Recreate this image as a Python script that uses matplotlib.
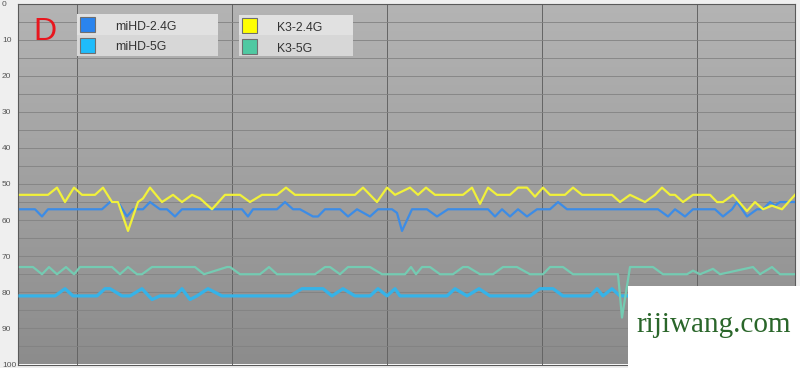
import numpy as np
import matplotlib.pyplot as plt
from matplotlib.patches import Rectangle

# czas (pozycja pozioma) i poziom sygnalu dla kazdej serii
k3_24_t = [20, 48, 57, 65, 74, 82, 95, 103, 112, 118, 128, 138, 143, 150, 162, 173, 182, 192,
           200, 212, 225, 240, 250, 262, 277, 286, 295, 355, 363, 377, 387, 395, 410, 418, 426,
           435, 463, 472, 480, 488, 497, 510, 518, 527, 535, 543, 550, 565, 573, 582, 612, 620,
           630, 645, 655, 662, 670, 675, 683, 693, 710, 717, 723, 733, 747, 755, 763, 772, 782, 795]
k3_24_v = [53, 53, 51, 55, 51, 53, 53, 51, 55, 55, 63, 55, 54, 51, 55, 53, 55, 53,
           54, 57, 53, 53, 55, 53, 53, 51, 53, 53, 51, 55, 51, 53, 51, 53, 51,
           53, 53, 51, 55.5, 51, 53, 53, 51, 51, 53.5, 51, 53, 53, 51, 53, 53, 55,
           53, 55, 53, 51, 53, 53, 55, 53, 53, 55, 55, 53, 57.5, 55, 57, 56, 57, 53]

mi_24_t = [20, 35, 42, 48, 102, 110, 118, 127, 133, 143, 150, 160, 167, 175, 182, 242, 248, 253,
           277, 285, 293, 300, 313, 318, 325, 340, 348, 357, 370, 378, 392, 397, 402, 412, 427,
           437, 448, 488, 495, 502, 510, 518, 527, 537, 550, 558, 567, 658, 668, 675, 685, 693,
           715, 723, 732, 737, 747, 757, 763, 770, 775, 780, 795]
mi_24_v = [57, 57, 59, 57, 57, 55, 55, 59, 57, 57, 55, 57, 57, 59, 57, 57, 59, 57,
           57, 55, 57, 57, 59, 59, 57, 57, 59, 57, 59, 57, 57, 58, 63, 57, 57,
           59, 57, 57, 59, 57, 59, 57, 59, 57, 57, 55, 57, 57, 59, 57, 59, 57,
           57, 59, 57, 55, 59, 57, 57, 55, 56, 55, 55]

k3_5_t = [20, 33, 42, 49, 57, 66, 74, 80, 112, 120, 128, 137, 142, 152, 195, 204, 227, 230, 240,
          260, 269, 277, 315, 325, 330, 340, 348, 370, 382, 405, 411, 416, 422, 430, 440, 453,
          463, 468, 480, 493, 503, 517, 530, 543, 550, 563, 573, 618, 622, 630, 653, 663, 687,
          693, 700, 713, 720, 753, 760, 772, 780, 795]
k3_5_v = [73, 73, 75, 73, 75, 73, 75, 73, 73, 75, 73, 75, 75, 73, 73, 75, 73, 73, 75,
          75, 73, 75, 75, 73, 73, 75, 73, 73, 75, 75, 73, 75, 73, 73, 75, 75,
          73, 73, 75, 75, 73, 73, 75, 75, 73, 73, 75, 75, 87, 73, 73, 75, 75,
          74, 75, 73.5, 75, 73, 75, 73, 75, 75]

mi_5_t = [20, 55, 65, 73, 97, 105, 110, 122, 130, 142, 152, 160, 175, 182, 190, 197, 208, 222,
          290, 302, 323, 332, 343, 355, 370, 378, 387, 395, 400, 447, 455, 467, 479, 490, 530,
          540, 553, 563, 590, 597, 603, 612, 620, 640, 795]
mi_5_v = [81, 81, 79, 81, 81, 79, 79, 81, 81, 79, 82, 81, 81, 79, 82, 81, 79, 81,
          81, 79, 79, 81, 79, 81, 81, 79, 81, 79, 81, 81, 79, 81, 79, 81, 81,
          79, 79, 81, 81, 79, 81, 79, 81, 81, 81]

nazwy = ["miHD-2.4G", "miHD-5G", "K3-2.4G", "K3-5G"]
kolory_leg = ["#2a84ee", "#1fbcfb", "#ffff00", "#4fc9a2"]

W, H = 800, 368
fig = plt.figure(figsize=(W / 100, H / 100), dpi=100, facecolor="#efefef")
ax = fig.add_axes([18 / W, 3.5 / H, 777 / W, 361 / H])

# tlo z gradientem
grad = np.linspace(0, 1, 256).reshape(-1, 1)
ax.imshow(grad, cmap=plt.matplotlib.colors.LinearSegmentedColormap.from_list("g", ["#b4b4b4", "#8c8c8c"]),
          extent=[0, 1, 0, 1], transform=ax.transAxes, aspect="auto", origin="upper", zorder=0)

ax.plot(mi_5_t, mi_5_v, color="#36b3e8", lw=2.3, solid_joinstyle="round", zorder=3)
ax.plot(k3_5_t, k3_5_v, color="#74cbb2", lw=1.6, solid_joinstyle="round", zorder=3)
ax.plot(mi_24_t, mi_24_v, color="#3c8ce6", lw=1.6, solid_joinstyle="round", zorder=3)
ax.plot(k3_24_t, k3_24_v, color="#f1f13a", lw=1.6, solid_joinstyle="round", zorder=4)

ax.set_xlim(18, 795)
ax.set_ylim(100, 0)
ax.set_yticks(np.arange(0, 101, 10))
ax.set_yticks(np.arange(5, 100, 10), minor=True)
ax.set_xticks([77, 232, 387, 542, 697])
ax.set_xticklabels([])
ax.grid(True, axis="y", which="both", color="#828282", lw=0.6, zorder=1)
ax.grid(True, axis="x", color="#646464", lw=0.7, zorder=1)
ax.tick_params(axis="both", which="both", length=0)
ax.tick_params(axis="y", pad=11.5, labelsize=6, labelcolor="#555555")
for lab in ax.get_yticklabels():
    lab.set_horizontalalignment("left")
    lab.set_fontfamily("Liberation Sans")
for s in ax.spines.values():
    s.set_color("#5a5a5a")
    s.set_linewidth(0.8)


def fx(px):
    return px / W


def fy(py):
    return 1 - py / H


# litera D
fig.text(fx(33), fy(40), "D", color="#e8161e", fontsize=23, family="Liberation Sans",
         ha="left", va="baseline")

# legenda w dwoch ramkach
ramki = [(77, 218, 14, 56), (239, 353, 15, 56)]
for i, (x0, x1, y0, y1) in enumerate(ramki):
    srodek = (y0 + y1) / 2
    fig.patches.append(Rectangle((fx(x0), fy(srodek)), fx(x1) - fx(x0), fy(y0) - fy(srodek),
                                 transform=fig.transFigure, facecolor="#e1e1e1", edgecolor="none"))
    fig.patches.append(Rectangle((fx(x0), fy(y1)), fx(x1) - fx(x0), fy(srodek) - fy(y1),
                                 transform=fig.transFigure, facecolor="#d7d7d7", edgecolor="none"))
    for j in range(2):
        k = i * 2 + j
        sy = y0 + 3 + j * 21
        fig.patches.append(Rectangle((fx(x0 + 3), fy(sy + 15)), 15 / W, 15 / H,
                                     transform=fig.transFigure, facecolor=kolory_leg[k],
                                     edgecolor="#6f6f6f", lw=0.8))
        fig.text(fx(x0 + 38), fy(y0 + 16 + j * 20.5), nazwy[k], fontsize=8.8,
                 family="Liberation Sans", color="#333333", ha="left", va="baseline")

# znak wodny
fig.patches.append(Rectangle((fx(628), 0), fx(800) - fx(628), fy(286),
                             transform=fig.transFigure, facecolor="white", edgecolor="none", zorder=5))
fig.text(fx(714), fy(331.5), "rijiwang.com", fontsize=21, family="Liberation Serif",
         color="#2a662a", ha="center", va="baseline", zorder=6)

fig.savefig("out.png", dpi=100, facecolor=fig.get_facecolor())
